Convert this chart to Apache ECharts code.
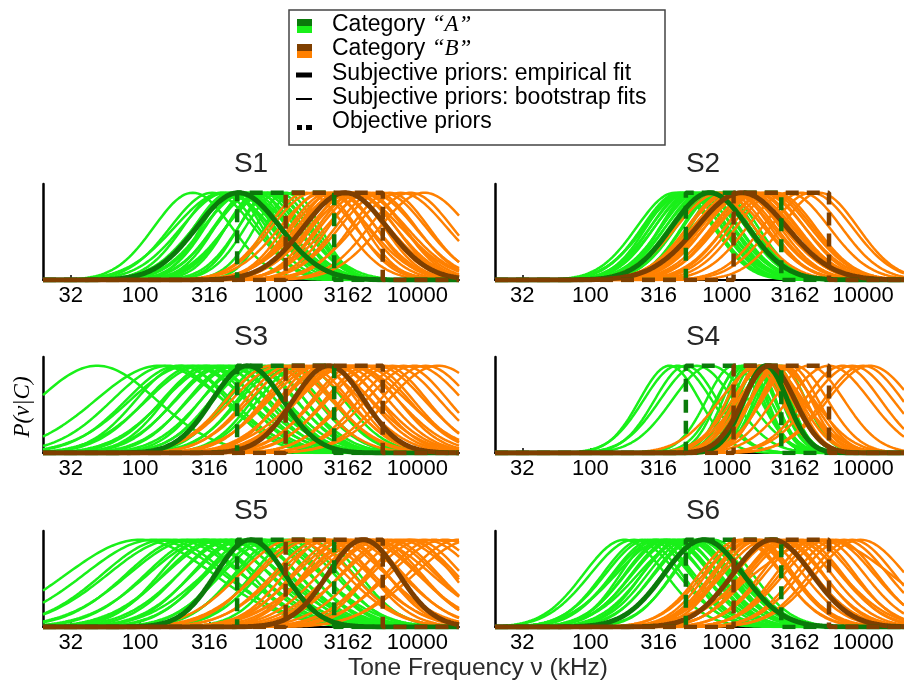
<!DOCTYPE html>
<html><head><meta charset="utf-8">
<script src="https://cdn.jsdelivr.net/npm/echarts@6/dist/echarts.min.js"></script>
<style>html,body{margin:0;padding:0;background:#fff}#c{width:904px;height:680px}</style>
</head><body><div id="c"></div>
<script>
// x axis is log10(frequency)
const logMin = 1.3, logMax = 4.3;
const tickValues = [1.5, 2, 2.5, 3, 3.5, 4];
const tickLabels = ['32', '100', '316', '1000', '3162', '10000'];
const panelNames = ['S1', 'S2', 'S3', 'S4', 'S5', 'S6'];

// objective priors (uniform ranges, log10 Hz)
const objA = [2.70, 3.40];
const objB = [3.05, 3.75];

// empirical fits [mean, sd] (log10 Hz) per panel
const empA = [[2.71, 0.30], [2.875, 0.28], [2.775, 0.255], [3.285, 0.16], [2.795, 0.25], [2.83, 0.29]];
const empB = [[3.48, 0.30], [3.11, 0.33], [3.36, 0.255], [3.31, 0.19], [3.61, 0.255], [3.335, 0.29]];

// bootstrap fits [mean, sd]
const S1_bootA = [[2.38,0.28],[2.52,0.30],[2.58,0.27],[2.62,0.32],[2.65,0.26],[2.68,0.29],[2.70,0.31],[2.72,0.25],[2.74,0.28],[2.76,0.30],[2.78,0.24],[2.80,0.27],[2.83,0.29],[2.85,0.23],[2.88,0.26],[2.90,0.28],[2.93,0.22],[2.96,0.25],[3.00,0.24],[3.05,0.22],[3.10,0.20],[2.60,0.35],[2.66,0.22],[2.92,0.30]];
const S1_bootB = [[3.20,0.28],[3.25,0.30],[3.30,0.26],[3.33,0.32],[3.36,0.28],[3.40,0.30],[3.43,0.27],[3.46,0.33],[3.48,0.29],[3.50,0.26],[3.53,0.31],[3.56,0.28],[3.58,0.34],[3.60,0.30],[3.63,0.27],[3.66,0.32],[3.70,0.29],[3.75,0.31],[3.80,0.28],[3.88,0.33],[3.95,0.30],[4.05,0.32],[3.38,0.24],[3.52,0.36]];
const S2_bootA = [[2.62,0.28],[2.65,0.27],[2.68,0.29],[2.70,0.26],[2.72,0.28],[2.74,0.27],[2.76,0.29],[2.78,0.26],[2.80,0.28],[2.82,0.27],[2.84,0.25],[2.86,0.28],[2.88,0.26],[2.90,0.27],[2.92,0.25],[2.94,0.26],[2.96,0.24],[2.98,0.25],[2.70,0.30],[2.66,0.25],[2.85,0.30],[2.75,0.24]];
const S2_bootB = [[2.90,0.30],[2.95,0.32],[3.00,0.29],[3.03,0.31],[3.06,0.30],[3.08,0.33],[3.10,0.29],[3.12,0.31],[3.14,0.30],[3.16,0.32],[3.18,0.28],[3.20,0.31],[3.22,0.30],[3.25,0.32],[3.28,0.29],[3.30,0.31],[3.33,0.30],[3.36,0.29],[3.45,0.30],[3.55,0.29],[3.62,0.30],[3.68,0.28],[3.05,0.27],[3.15,0.34]];
const S3_bootA = [[1.69,0.43],[2.14,0.46],[2.20,0.40],[2.28,0.38],[2.35,0.42],[2.40,0.36],[2.45,0.40],[2.50,0.34],[2.55,0.38],[2.58,0.33],[2.62,0.36],[2.66,0.32],[2.70,0.35],[2.74,0.30],[2.78,0.34],[2.82,0.31],[2.86,0.33],[2.90,0.29],[2.95,0.32],[3.00,0.30],[3.05,0.33],[3.10,0.29],[3.16,0.31],[2.48,0.30],[2.30,0.33]];
const S3_bootB = [[2.95,0.33],[3.02,0.36],[3.08,0.32],[3.14,0.35],[3.20,0.31],[3.25,0.34],[3.30,0.37],[3.34,0.32],[3.38,0.35],[3.42,0.30],[3.46,0.33],[3.50,0.36],[3.55,0.31],[3.60,0.34],[3.65,0.32],[3.70,0.35],[3.76,0.31],[3.82,0.34],[3.90,0.32],[3.98,0.35],[4.06,0.33],[4.15,0.36],[3.28,0.28],[3.52,0.40]];
const S4_bootA = [[2.58,0.22],[2.64,0.25],[2.70,0.23],[2.78,0.27],[2.88,0.28],[3.05,0.20],[3.10,0.17],[3.13,0.16],[3.15,0.15],[3.18,0.17],[3.20,0.16],[3.22,0.14],[3.24,0.16],[3.25,0.18],[3.27,0.15],[3.28,0.17],[3.30,0.16],[3.32,0.15],[3.34,0.17],[3.36,0.16],[3.40,0.18],[3.12,0.20]];
const S4_bootB = [[3.20,0.20],[3.24,0.18],[3.27,0.21],[3.30,0.19],[3.32,0.22],[3.35,0.18],[3.38,0.20],[3.40,0.23],[3.43,0.19],[3.46,0.21],[3.30,0.26],[3.36,0.28],[3.60,0.26],[3.75,0.30],[3.85,0.28],[3.92,0.30],[4.00,0.29],[4.05,0.31],[3.50,0.24],[3.25,0.30]];
const S5_bootA = [[2.00,0.53],[2.10,0.50],[2.18,0.45],[2.25,0.48],[2.32,0.42],[2.38,0.46],[2.44,0.40],[2.50,0.44],[2.55,0.38],[2.60,0.42],[2.64,0.36],[2.68,0.40],[2.72,0.35],[2.76,0.38],[2.80,0.34],[2.85,0.37],[2.90,0.33],[2.95,0.36],[3.00,0.32],[3.05,0.35],[3.12,0.31],[3.20,0.34],[3.28,0.30],[2.47,0.33],[2.88,0.42]];
const S5_bootB = [[3.10,0.38],[3.18,0.35],[3.25,0.40],[3.32,0.36],[3.38,0.39],[3.44,0.34],[3.50,0.38],[3.55,0.35],[3.60,0.40],[3.65,0.36],[3.70,0.33],[3.75,0.38],[3.80,0.35],[3.86,0.40],[3.92,0.36],[3.98,0.34],[4.05,0.38],[4.12,0.35],[4.20,0.40],[4.30,0.37],[4.40,0.42],[3.48,0.30],[3.66,0.44],[3.35,0.31],[3.95,0.30]];
const S6_bootA = [[2.25,0.30],[2.32,0.32],[2.38,0.29],[2.42,0.31],[2.46,0.30],[2.50,0.33],[2.54,0.29],[2.57,0.31],[2.60,0.30],[2.63,0.32],[2.66,0.28],[2.69,0.31],[2.72,0.30],[2.75,0.29],[2.78,0.31],[2.81,0.28],[2.84,0.30],[2.87,0.27],[2.90,0.29],[2.55,0.36],[2.70,0.35],[2.48,0.26]];
const S6_bootB = [[3.10,0.30],[3.13,0.28],[3.15,0.32],[3.18,0.29],[3.20,0.29],[3.25,0.31],[3.30,0.33],[3.34,0.30],[3.38,0.32],[3.42,0.29],[3.46,0.31],[3.50,0.33],[3.55,0.30],[3.60,0.32],[3.65,0.29],[3.70,0.31],[3.75,0.33],[3.80,0.30],[3.86,0.32],[3.92,0.31],[3.98,0.33],[3.70,0.50],[3.22,0.27],[3.48,0.36]];

const bootA = [S1_bootA, S2_bootA, S3_bootA, S4_bootA, S5_bootA, S6_bootA];
const bootB = [S1_bootB, S2_bootB, S3_bootB, S4_bootB, S5_bootB, S6_bootB];

const C = {
  lightA: '#19f019', darkA: '#0b7a0b',
  lightB: '#ff8000', darkB: '#7f3f00'
};
const FONT = 'Liberation Sans, Arial, Helvetica, sans-serif';

const STEP = 0.01;
function gaussCurve(mu, sd) {
  const pts = [];
  const n = Math.round((logMax - logMin) / STEP);
  for (let i = 0; i <= n; i++) {
    const x = logMin + i * STEP;
    pts.push([x, Math.exp(-((x - mu) * (x - mu)) / (2 * sd * sd))]);
  }
  return pts;
}
function stepCurve(r) {
  return [[logMin, 0], [r[0], 0], [r[0], 1], [r[1], 1], [r[1], 0], [logMax, 0]];
}

const colLeft = [43, 495];
const rowTop = [184, 357, 531];
const gw = 416, gh = 96;

const grids = [], xAxes = [], yAxes = [], series = [], graphics = [];
for (let p = 0; p < 6; p++) {
  const col = p % 2, row = Math.floor(p / 2);
  grids.push({ left: colLeft[col], top: rowTop[row], width: gw, height: gh });
  xAxes.push({
    gridIndex: p, type: 'value', min: logMin, max: logMax,
    axisLine: { show: true, onZero: false, lineStyle: { color: '#000', width: 2 } },
    axisTick: { show: true, inside: true, length: 5, customValues: tickValues, lineStyle: { color: '#000', width: 1.5 } },
    axisLabel: {
      show: true, customValues: tickValues, margin: 5, color: '#000', fontSize: 22, fontFamily: FONT,
      formatter: v => { for (let k = 0; k < tickValues.length; k++) if (Math.abs(v - tickValues[k]) < 1e-6) return tickLabels[k]; return ''; }
    },
    splitLine: { show: false }
  });
  yAxes.push({
    gridIndex: p, type: 'value', min: 0, max: 1.1,
    axisLine: { show: true, lineStyle: { color: '#000', width: 2.5 } },
    axisTick: { show: false }, axisLabel: { show: false }, splitLine: { show: false }
  });
  const base = { type: 'line', xAxisIndex: p, yAxisIndex: p, showSymbol: false, symbol: 'none', silent: true, animation: false };
  bootA[p].forEach(c => series.push(Object.assign({}, base, { data: gaussCurve(c[0], c[1]), lineStyle: { color: C.lightA, width: 2.5 } })));
  bootB[p].forEach(c => series.push(Object.assign({}, base, { data: gaussCurve(c[0], c[1]), lineStyle: { color: C.lightB, width: 2.5 } })));
  series.push(Object.assign({}, base, { data: gaussCurve(empA[p][0], empA[p][1]), lineStyle: { color: C.darkA, width: 5 } }));
  series.push(Object.assign({}, base, { data: gaussCurve(empB[p][0], empB[p][1]), lineStyle: { color: C.darkB, width: 5 } }));
  series.push(Object.assign({}, base, { data: stepCurve(objA), lineStyle: { color: C.darkA, width: 4.5, type: [13, 8] } }));
  series.push(Object.assign({}, base, { data: stepCurve(objB), lineStyle: { color: C.darkB, width: 4.5, type: [13, 8] } }));

  graphics.push({
    type: 'text', x: colLeft[col] + gw / 2, y: rowTop[row] - 20, silent: true,
    style: { text: panelNames[p], fill: '#262626', font: '28px ' + FONT, align: 'center', verticalAlign: 'middle' }
  });
}

// legend
const legendTexts = ['Subjective priors: empirical fit', 'Subjective priors: bootstrap fits', 'Objective priors'];
graphics.push({ type: 'rect', shape: { x: 289, y: 10, width: 376, height: 135 }, style: { fill: '#fff', stroke: '#444', lineWidth: 1.5 }, z: 10 });
graphics.push({ type: 'rect', shape: { x: 297, y: 19, width: 15, height: 7 }, style: { fill: C.darkA }, z: 11 });
graphics.push({ type: 'rect', shape: { x: 297, y: 26, width: 15, height: 7 }, style: { fill: C.lightA }, z: 11 });
graphics.push({ type: 'rect', shape: { x: 297, y: 44, width: 15, height: 7 }, style: { fill: C.darkB }, z: 11 });
graphics.push({ type: 'rect', shape: { x: 297, y: 51, width: 15, height: 7 }, style: { fill: C.lightB }, z: 11 });
graphics.push({ type: 'line', shape: { x1: 296, y1: 75, x2: 312, y2: 75 }, style: { stroke: '#000', lineWidth: 5 }, z: 11 });
graphics.push({ type: 'line', shape: { x1: 296, y1: 99, x2: 312, y2: 99 }, style: { stroke: '#000', lineWidth: 2 }, z: 11 });
graphics.push({ type: 'rect', shape: { x: 297, y: 125, width: 5, height: 5 }, style: { fill: '#000' }, z: 11 });
graphics.push({ type: 'rect', shape: { x: 306, y: 125, width: 6, height: 5 }, style: { fill: '#000' }, z: 11 });
const richLeg = { i: { fontFamily: 'Liberation Serif, Times New Roman, serif', fontStyle: 'italic', fontSize: 23, fill: '#000' } };
graphics.push({ type: 'text', x: 332, y: 25, z: 11, style: { text: 'Category {i|\u201cA\u201d}', rich: richLeg, fill: '#000', font: '23px ' + FONT, verticalAlign: 'middle' } });
graphics.push({ type: 'text', x: 332, y: 49, z: 11, style: { text: 'Category {i|\u201cB\u201d}', rich: richLeg, fill: '#000', font: '23px ' + FONT, verticalAlign: 'middle' } });
[74, 98, 122].forEach((y, k) => graphics.push({ type: 'text', x: 332, y: y, z: 11, style: { text: legendTexts[k], fill: '#000', font: '23px ' + FONT, verticalAlign: 'middle' } }));

// axis labels
graphics.push({ type: 'text', x: 478, y: 668, style: { text: 'Tone Frequency \u03bd (kHz)', fill: '#2b2b2b', font: '24.5px ' + FONT, align: 'center', verticalAlign: 'middle' } });
graphics.push({ type: 'text', x: 23, y: 407, rotation: Math.PI / 2, style: { text: 'P(\u03bd|C)', fill: '#000', font: 'italic 23px Liberation Serif, Times New Roman, serif', align: 'center', verticalAlign: 'middle' } });

const chart = echarts.init(document.getElementById('c'), null, { renderer: 'canvas' });
chart.setOption({
  animation: false,
  backgroundColor: '#fff',
  grid: grids, xAxis: xAxes, yAxis: yAxes, series: series,
  graphic: { elements: graphics }
});
</script></body></html>
